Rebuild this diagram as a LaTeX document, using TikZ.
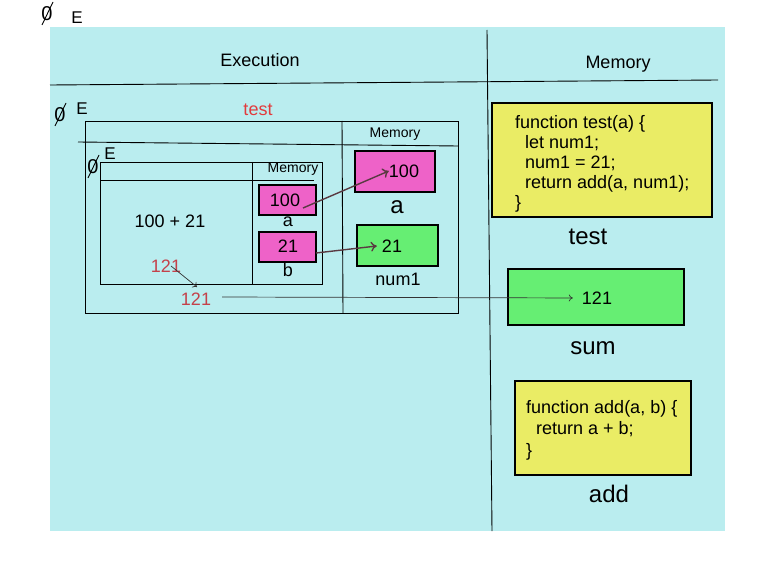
\documentclass[tikz,border=0pt]{standalone}
\usepackage{fontspec}
\setmainfont{Liberation Sans}
\usetikzlibrary{arrows.meta}
\definecolor{bgcyan}{HTML}{BAEDEF}
\definecolor{pinkc}{HTML}{EE62C8}
\definecolor{greenc}{HTML}{66EE73}
\definecolor{yellowc}{HTML}{EAEC65}
\definecolor{redt}{HTML}{E23A3C}
\definecolor{redn}{HTML}{C4414A}
\definecolor{arrc}{HTML}{5A3A42}
\tikzset{
  lbl/.style={inner sep=0pt, font=\fontsize{#1}{#1}\selectfont},
  lbl/.default=18,
  valbox/.style={draw=black, line width=1.6pt, inner sep=0pt},
  thin line/.style={line width=0.9pt},
  codebox/.style={valbox, fill=yellowc},
  memarrow/.style={draw=arrc, line width=1.4pt, -{To[length=6pt,width=10pt]}},
  resarrow/.style={draw=black!80, line width=0.7pt, -{To[length=4pt,width=7pt]}},
}
\begin{document}
\begin{tikzpicture}[x=1pt,y=-1pt]
\useasboundingbox (0,0) rectangle (763,567);
% background
\fill[bgcyan] (50,27) rectangle (725,531);
% top-left marker
\node[lbl=20] (z0) at (47,14) {0};
\draw[thin line] (42,25) -- (53,2);
\node[lbl=17] (e0) at (77,18) {E};
% main dividers
\draw[thin line] (487,30) -- (492,531);
\draw[thin line] (50,85) -- (718,80);
\node[lbl=18] (exec) at (260,60) {Execution};
\node[lbl=18] (mem0) at (618,64) {Memory};
% outer (test) context
\node[lbl=20] (z1) at (60,115) {0};
\draw[thin line] (55,126) -- (66,103);
\node[lbl=17] (e1) at (82,109) {E};
\node[lbl=18, text=redt] (testt) at (258,110) {test};
\draw[thin line] (85,121) rectangle (458,313);
\draw[thin line] (78,142) -- (458,146);
\draw[thin line] (342,121) -- (343,313);
\node[lbl=14] (mem1) at (395,134) {Memory};
% inner (add) context
\node[lbl=20] (z2) at (93,167) {0};
\draw[thin line] (88,178) -- (99,155);
\node[lbl=17] (e2) at (110,154) {E};
\draw[thin line] (100,162) rectangle (322,284);
\draw[thin line] (100,180) -- (314,180);
\draw[thin line] (252,162) -- (252,284);
\node[lbl=14] (mem2) at (293,169) {Memory};
\node[lbl=18] (expr) at (170,221) {100 + 21};
\node[valbox, fill=pinkc, minimum width=57pt, minimum height=30pt] (pa) at (287.5,200) {};
\node[lbl=18] (pav) at (285,200) {100};
\node[lbl=18] (pal) at (288,222) {a};
\node[valbox, fill=pinkc, minimum width=57pt, minimum height=30pt] (pb) at (287.5,247) {};
\node[lbl=18] (pbv) at (288,246) {21};
\node[lbl=18] (pbl) at (288,270) {b};
\node[lbl=18, text=redn] (r1) at (166,266) {121};
\node[lbl=18, text=redn] (r2) at (196,299) {121};
\draw[resarrow] (171,266) -- (197,287);
% test memory
\node[valbox, fill=pinkc, minimum width=80pt, minimum height=41pt] (ma) at (395,171.5) {};
\node[lbl=18] (mav) at (404,171) {100};
\node[lbl=24] (mal) at (397,207) {a};
\node[valbox, fill=greenc, minimum width=81pt, minimum height=41pt] (mn) at (397.5,245.5) {};
\node[lbl=18] (mnv) at (392,246) {21};
\node[lbl=18] (mnl) at (398,279) {num1};
\draw[memarrow] (303,208) -- (mav.west);
\draw[memarrow] (316,253) -- ([xshift=-5pt]mnv.west);
% global memory
\node[codebox, minimum width=220pt, minimum height=114pt] (ftest) at (602,160) {};
\node[lbl=18, anchor=north west, align=left, font=\fontsize{18}{20}\selectfont] (ftestt) at (515,115)
  {function test(a) \{\\\ \ let num1;\\\ \ num1 = 21;\\\ \ return add(a, num1);\\\}};
\node[lbl=24] (ftestl) at (588,237) {test};
\node[valbox, fill=greenc, minimum width=176pt, minimum height=56pt] (sum) at (596,297) {};
\node[lbl=18] (sumv) at (597,298) {121};
\node[lbl=24] (suml) at (593,348) {sum};
\node[codebox, minimum width=176pt, minimum height=94pt] (fadd) at (603,428) {};
\node[lbl=18, anchor=north west, align=left, font=\fontsize{18}{21.5}\selectfont] (faddt) at (526,400)
  {function add(a, b) \{\\\ \ return a + b;\\\}};
\node[lbl=24] (faddl) at (609,494) {add};
\draw[resarrow, shorten >=9pt] (222,297) -- (sumv.west);
\end{tikzpicture}
\end{document}
